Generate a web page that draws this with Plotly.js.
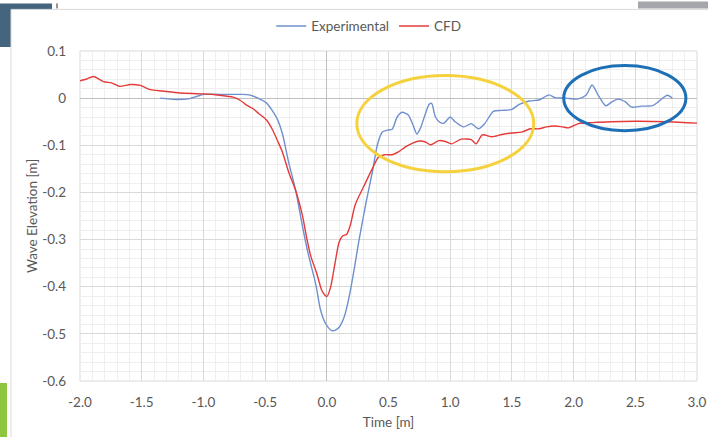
<!DOCTYPE html>
<html>
<head>
<meta charset="utf-8">
<script src="https://cdn.plot.ly/plotly-3.0.1.min.js"></script>
<style>html,body{margin:0;padding:0;background:#fff;}#chart{width:708px;height:437px;}</style>
</head>
<body>
<div id="chart"></div>
<script>
// ---- Data ----
const expTime = [-1.35,-1.22,-1.11,-1.05,-1.00,-0.87,-0.70,-0.63,-0.55,-0.49,-0.44,-0.40,-0.36,-0.31,-0.25,-0.20,-0.15,-0.09,-0.05,-0.01,0.04,0.07,0.10,0.14,0.18,0.22,0.26,0.32,0.37,0.41,0.45,0.49,0.53,0.57,0.61,0.66,0.70,0.73,0.76,0.79,0.83,0.85,0.88,0.92,0.95,1.00,1.04,1.11,1.17,1.23,1.28,1.35,1.42,1.50,1.56,1.64,1.72,1.80,1.85,1.94,2.03,2.10,2.15,2.20,2.26,2.31,2.36,2.42,2.47,2.55,2.64,2.69,2.76,2.80];
const expElev = [0.000,-0.003,-0.001,0.004,0.008,0.008,0.008,0.007,-0.001,-0.010,-0.027,-0.045,-0.075,-0.135,-0.198,-0.268,-0.331,-0.394,-0.450,-0.478,-0.493,-0.492,-0.486,-0.465,-0.423,-0.366,-0.303,-0.219,-0.156,-0.099,-0.072,-0.068,-0.066,-0.040,-0.030,-0.036,-0.058,-0.076,-0.063,-0.040,-0.013,-0.011,-0.040,-0.052,-0.053,-0.040,-0.050,-0.061,-0.054,-0.065,-0.054,-0.028,-0.026,-0.024,-0.013,-0.006,-0.004,0.007,0.001,0.000,-0.002,0.006,0.028,0.006,-0.016,-0.008,-0.002,-0.008,-0.019,-0.017,-0.016,-0.007,0.006,0.000];

const cfdTime = [-2.00,-1.95,-1.89,-1.81,-1.74,-1.68,-1.59,-1.51,-1.43,-1.33,-1.19,-1.00,-0.87,-0.76,-0.70,-0.65,-0.60,-0.55,-0.49,-0.44,-0.40,-0.36,-0.31,-0.25,-0.20,-0.16,-0.13,-0.08,-0.04,0.00,0.03,0.07,0.10,0.13,0.16,0.19,0.23,0.30,0.37,0.42,0.47,0.53,0.58,0.64,0.70,0.75,0.80,0.84,0.91,0.96,1.01,1.09,1.17,1.21,1.26,1.34,1.42,1.50,1.58,1.65,1.72,1.78,1.85,1.91,1.96,2.04,2.15,2.30,2.50,2.77,3.00];
const cfdElev = [0.037,0.040,0.046,0.035,0.032,0.025,0.029,0.027,0.018,0.015,0.011,0.009,0.006,0.002,-0.005,-0.015,-0.022,-0.033,-0.046,-0.067,-0.090,-0.114,-0.156,-0.198,-0.246,-0.300,-0.335,-0.373,-0.408,-0.421,-0.402,-0.345,-0.305,-0.292,-0.289,-0.270,-0.226,-0.187,-0.149,-0.125,-0.120,-0.120,-0.114,-0.103,-0.095,-0.091,-0.093,-0.099,-0.090,-0.092,-0.097,-0.087,-0.088,-0.097,-0.078,-0.082,-0.077,-0.074,-0.072,-0.065,-0.065,-0.061,-0.059,-0.061,-0.063,-0.054,-0.052,-0.050,-0.049,-0.050,-0.053];

const seriesNames = ["Experimental", "CFD"];
const xTickVals = [-2.0,-1.5,-1.0,-0.5,0.0,0.5,1.0,1.5,2.0,2.5,3.0];
const xTickText = ["-2.0","-1.5","-1.0","-0.5","0.0","0.5","1.0","1.5","2.0","2.5","3.0"];
const yTickVals = [0.1,0,-0.1,-0.2,-0.3,-0.4,-0.5,-0.6];
const yTickText = ["0.1","0","-0.1","-0.2","-0.3","-0.4","-0.5","-0.6"];

// ---- Chart ----
const FONT = "Lato, 'Open Sans', sans-serif";
const TXT = "#595959";
const FS = 13.5;

const traces = [
  {x: expTime, y: expElev, name: seriesNames[0], mode: "lines",
   line: {color: "#6F8FCF", width: 1.4, shape: "spline", smoothing: 0.7}},
  {x: cfdTime, y: cfdElev, name: seriesNames[1], mode: "lines",
   line: {color: "#E53A3A", width: 1.4, shape: "spline", smoothing: 0.7}}
];

function px2x(px){ return (px - 80) / 617; }
function py2y(py){ return (381 - py) / 333; }

const layout = {
  width: 708, height: 437,
  margin: {l: 80, r: 11, t: 48, b: 56},
  paper_bgcolor: "#ffffff", plot_bgcolor: "rgba(0,0,0,0)",
  font: {family: FONT, size: FS, color: TXT},
  showlegend: true,
  legend: {orientation: "h", x: 0.468, xanchor: "center", y: py2y(23), yanchor: "middle",
           font: {family: FONT, size: FS, color: TXT}, bgcolor: "rgba(0,0,0,0)", itemwidth: 30, tracegroupgap: 0},
  xaxis: {
    range: [-2, 3], tickvals: xTickVals, ticktext: xTickText,
    showgrid: true, gridcolor: "#D9D9D9", gridwidth: 1,
    minor: {dtick: 0.1, showgrid: true, gridcolor: "#EFEFEF", gridwidth: 1},
    zeroline: true, zerolinecolor: "#BFBFBF", zerolinewidth: 1,
    showline: false, ticks: "", ticklabelstandoff: 11,
    tickfont: {family: FONT, size: FS, color: TXT},
    title: {text: "Time [m]", font: {family: FONT, size: FS, color: TXT}, standoff: 9},
    fixedrange: true
  },
  yaxis: {
    range: [-0.6, 0.1], tickvals: yTickVals, ticktext: yTickText,
    showgrid: true, gridcolor: "#D9D9D9", gridwidth: 1,
    minor: {dtick: 0.02, showgrid: true, gridcolor: "#EFEFEF", gridwidth: 1},
    zeroline: true, zerolinecolor: "#BFBFBF", zerolinewidth: 1,
    showline: false, ticks: "", ticklabelstandoff: 13,
    tickfont: {family: FONT, size: FS, color: TXT},
    title: {text: "Wave Elevation [m]", font: {family: FONT, size: FS, color: TXT}, standoff: 1},
    fixedrange: true
  },
  shapes: [
    // slide background pieces
    {type: "rect", xref: "paper", yref: "paper", layer: "below",
     x0: px2x(0), x1: px2x(52), y0: py2y(44), y1: py2y(0),
     fillcolor: "#45657F", line: {width: 0}},
    {type: "rect", xref: "paper", yref: "paper", layer: "below",
     x0: px2x(11), x1: px2x(730), y0: py2y(460), y1: py2y(6),
     fillcolor: "#ffffff", line: {color: "#D9D9D9", width: 1}},
    {type: "rect", xref: "paper", yref: "paper", layer: "below",
     x0: px2x(638), x1: px2x(710), y0: py2y(5), y1: py2y(-2),
     fillcolor: "#A3A7AB", line: {width: 0}},
    {type: "line", xref: "paper", yref: "paper", layer: "below",
     x0: px2x(57), x1: px2x(57), y0: py2y(5), y1: py2y(0),
     line: {color: "#333333", width: 1}},
    {type: "rect", xref: "paper", yref: "paper", layer: "below",
     x0: px2x(-2), x1: px2x(7), y0: py2y(440), y1: py2y(383),
     fillcolor: "#8DC63F", line: {width: 0}},
    // plot area edge lines
    {type: "rect", xref: "paper", yref: "paper", layer: "below",
     x0: 0, x1: 1, y0: 0, y1: 1, line: {color: "#D9D9D9", width: 1}},
    // highlight ellipses
    {type: "circle", xref: "x", yref: "y", layer: "above",
     x0: 0.243, x1: 1.677, y0: -0.156, y1: 0.048,
     line: {color: "#F6D13E", width: 3}},
    {type: "circle", xref: "x", yref: "y", layer: "above",
     x0: 1.92, x1: 2.91, y0: -0.069, y1: 0.069,
     line: {color: "#1D6FB6", width: 3}}
  ]
};

Plotly.newPlot("chart", traces, layout, {staticPlot: true, displayModeBar: false});
</script>
</body>
</html>
